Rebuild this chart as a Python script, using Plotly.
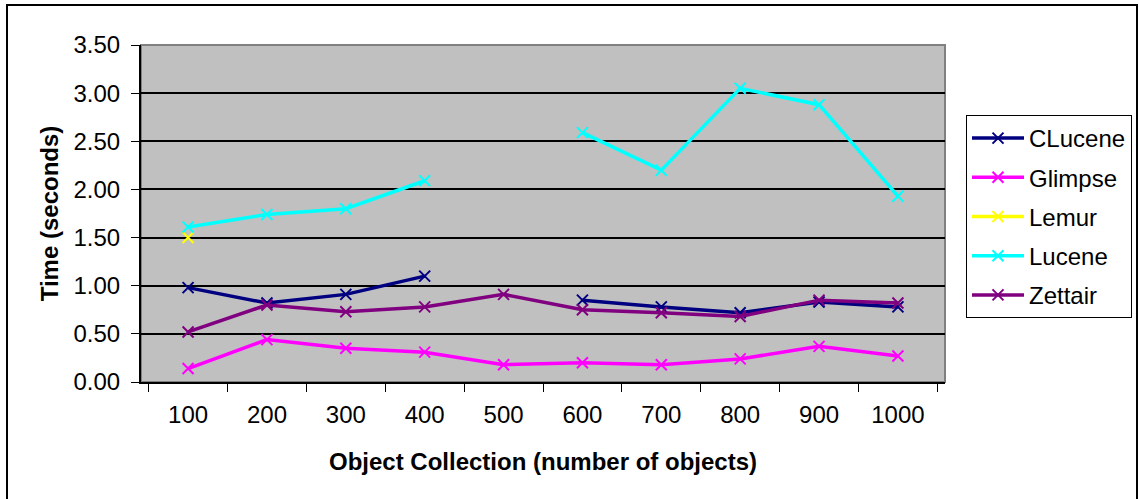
import plotly.graph_objects as go

categories = ["100", "200", "300", "400", "500", "600", "700", "800", "900", "1000"]
clucene = [0.98, 0.82, 0.91, 1.10, None, 0.85, 0.78, 0.72, 0.83, 0.78]
glimpse = [0.14, 0.44, 0.35, 0.31, 0.18, 0.20, 0.18, 0.24, 0.37, 0.27]
lemur = [1.50, None, None, None, None, None, None, None, None, None]
lucene = [1.61, 1.74, 1.80, 2.09, None, 2.59, 2.20, 3.05, 2.88, 1.93]
zettair = [0.52, 0.80, 0.73, 0.78, 0.91, 0.75, 0.72, 0.68, 0.85, 0.82]
y_ticks = [0, 0.5, 1.0, 1.5, 2.0, 2.5, 3.0, 3.5]

series = [
    ("CLucene", clucene, "#000080"),
    ("Glimpse", glimpse, "#FF00FF"),
    ("Lemur", lemur, "#FFFF00"),
    ("Lucene", lucene, "#00FFFF"),
    ("Zettair", zettair, "#800080"),
]

FONT = "Arial, Liberation Sans, sans-serif"

fig = go.Figure()
for name, vals, col in series:
    fig.add_trace(go.Scatter(
        x=categories, y=vals, name=name, mode="lines+markers",
        line=dict(color=col, width=3.5),
        marker=dict(symbol="x-thin", size=11, line=dict(color=col, width=2), color=col),
        connectgaps=False, legendgroup=name,
    ))

W, H = 1139, 499
L, R, T, B = 141, 194, 45, 117
pw, ph = W - L - R, H - T - B

def px_x(x):
    return (x - L) / pw

def px_y(y):
    return (H - B - y) / ph

fig.update_layout(
    template="none",
    width=W, height=H,
    margin=dict(l=L, r=R, t=T, b=B, autoexpand=False),
    paper_bgcolor="white",
    plot_bgcolor="#C0C0C0",
    font=dict(family=FONT, size=24, color="black"),
    showlegend=True,
    legend=dict(
        x=px_x(966), y=px_y(115), xanchor="left", yanchor="top",
        bgcolor="white", bordercolor="black", borderwidth=1,
        font=dict(family=FONT, size=24, color="black"),
        traceorder="grouped", tracegroupgap=5, itemwidth=52,
    ),
    xaxis=dict(
        type="category", categoryorder="array", categoryarray=categories,
        automargin=False,
        tickson="boundaries", ticks="outside", ticklen=8, tickcolor="black", tickwidth=1,
        ticklabelstandoff=10,
        showline=True, linecolor="black", linewidth=2,
        showgrid=False, zeroline=False,
        tickfont=dict(family=FONT, size=24),
        title=dict(text="<b>Object Collection (number of objects)</b>", font=dict(family=FONT, size=24), standoff=26),
    ),
    yaxis=dict(
        range=[0, 3.5], tickvals=y_ticks, tickformat=".2f",
        automargin=False,
        ticks="outside", ticklen=8, tickcolor="black", tickwidth=1,
        ticklabelstandoff=6,
        showline=True, linecolor="black", linewidth=2,
        showgrid=True, gridcolor="black", gridwidth=2, zeroline=False,
        tickfont=dict(family=FONT, size=24),
        title=dict(text="<b>Time (seconds)</b>", font=dict(family=FONT, size=24), standoff=8),
    ),
    shapes=[
        dict(type="rect", xref="paper", yref="paper", x0=0, x1=1, y0=0, y1=1,
             line=dict(color="#808080", width=2), fillcolor="rgba(0,0,0,0)", layer="below"),
        dict(type="rect", xref="paper", yref="paper",
             x0=px_x(7), x1=px_x(1137), y0=px_y(520), y1=px_y(5),
             line=dict(color="black", width=2), fillcolor="rgba(0,0,0,0)"),
    ],
)

fig.write_html(
    "out.html",
    config={"displayModeBar": False},
    post_script="document.body.style.margin='0';document.body.style.overflow='hidden';",
)
